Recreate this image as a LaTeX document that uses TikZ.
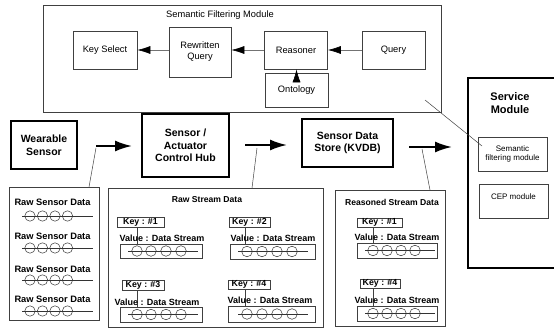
\documentclass[tikz,border=0pt]{standalone}
\usepackage{fontspec}
\setmainfont{Liberation Sans}
\usetikzlibrary{arrows.meta}
\tikzset{
  thinbox/.style={draw=black!75, line width=0.6pt, inner sep=0pt, align=center, font=\fontsize{9.3}{11}\selectfont},
  thickbox/.style={draw=black, line width=1.6pt, inner sep=0pt, align=center, font=\bfseries\fontsize{10.5}{12.5}\selectfont},
  keybox/.style={draw=black!75, line width=0.6pt, inner sep=0pt, font=\bfseries\fontsize{8.8}{10}\selectfont},
  valtext/.style={inner sep=0pt, font=\bfseries\fontsize{9}{10}\selectfont},
  valbox/.style={draw=black!75, line width=0.6pt, inner sep=0pt},
  titletext/.style={inner sep=0pt, font=\bfseries\fontsize{8.6}{10}\selectfont},
  modarrow/.style={-{Latex[length=13pt,width=8pt,color=black]}, line width=0.6pt, draw=black!55},
  bigarrow/.style={-{Latex[length=17pt,width=11pt]}, line width=2pt},
  thinline/.style={line width=0.5pt, draw=black!75},
  circ/.style={line width=0.5pt, draw=black!80},
}
\begin{document}
\begin{tikzpicture}[x=1pt,y=-1pt]
\clip (0,0) rectangle (554,329);
% Semantic filtering module
\node[thinbox, minimum width=398pt, minimum height=107pt] (sfm) at (242,58.5) {};
\node[inner sep=0pt, font=\fontsize{9.3}{11}\selectfont] (sfmt) at (220,15) {Semantic Filtering Module};
\node[thinbox, minimum width=64pt, minimum height=38pt] (keysel) at (105,50) {Key Select};
\node[thinbox, minimum width=62pt, minimum height=50pt] (rewr) at (200,52) {Rewritten\\Query};
\node[thinbox, minimum width=63pt, minimum height=38pt] (reas) at (296,50) {Reasoner};
\node[thinbox, minimum width=63pt, minimum height=38pt] (query) at (393.5,50) {Query};
\node[thinbox, minimum width=63pt, minimum height=34pt] (onto) at (296.5,90) {Ontology};
\draw[modarrow] (query.west) -- (reas.east |- query.west);
\draw[modarrow] (reas.west) -- (rewr.east |- reas.west);
\draw[modarrow] (rewr.west |- keysel.east) -- (keysel.east);
\draw[modarrow] (onto.north) -- (reas.south -| onto.north);

% main chain
\node[thickbox, minimum width=66pt, minimum height=48pt] (wear) at (44,145) {Wearable\\Sensor};
\node[thickbox, minimum width=87pt, minimum height=63pt] (hub) at (185.5,145.5) {Sensor /\\Actuator\\Control Hub};
\node[thickbox, minimum width=91pt, minimum height=48pt] (store) at (347.5,143) {Sensor Data\\Store (KVDB)};
\node[thickbox, minimum width=94pt, minimum height=190pt] (service) at (515,173) {};
\node[inner sep=0pt, align=center, font=\bfseries\fontsize{11}{13}\selectfont] (servt) at (510,103.5) {Service\\Module};
\node[thinbox, minimum width=69pt, minimum height=34pt, font=\fontsize{8}{9.5}\selectfont] (semf) at (512.5,154) {Semantic\\filtering module};
\node[thinbox, minimum width=69pt, minimum height=34pt] (cep) at (513.5,201) {};
\node[inner sep=0pt, font=\fontsize{8}{9.5}\selectfont] (cept) at (513.5,197) {CEP module};

\coordinate (a1s) at (96,146);
\coordinate (a1e) at (132,146);
\coordinate (a2s) at (245,145);
\coordinate (a2e) at (287,145);
\coordinate (a3s) at (409,147);
\coordinate (a3e) at (452,147);
\draw[bigarrow] (a1s) -- (a1e);
\draw[bigarrow] (a2s) -- (a2e);
\draw[bigarrow] (a3s) -- (a3e);

% data boxes
\node[thinbox, minimum width=90pt, minimum height=133pt] (rawsens) at (54,253.5) {};
\node[thinbox, minimum width=215pt, minimum height=139pt] (rawstream) at (215.5,257.5) {};
\node[thinbox, minimum width=110pt, minimum height=136pt] (reasoned) at (390,258) {};

\coordinate (l1s) at (96,148);
\coordinate (l1e) at (89,187);
\coordinate (l2s) at (257,148);
\coordinate (l2e) at (252,188);
\coordinate (l3s) at (422,149);
\coordinate (l3e) at (430,190);
\coordinate (l4s) at (425,100);
\coordinate (l4e) at (482,146);
\draw[thinline] (l1s) -- (l1e);
\draw[thinline] (l2s) -- (l2e);
\draw[thinline] (l3s) -- (l3e);
\draw[thinline] (l4s) -- (l4e);

% raw sensor data
\foreach \ty/\cy [count=\i] in {202/216, 236/248, 269/280, 299/311} {
  \node[titletext, font=\bfseries\fontsize{9.3}{10}\selectfont] (rsd\i) at (52.5,\ty) {Raw Sensor Data};
  \draw[circ] (22,\cy) -- (93,\cy);
  \foreach \cx in {30,42.5,55,67.5} \draw[circ] (\cx,\cy) circle (5.2pt);
}

% raw stream data
\node[titletext] (rst) at (207,200) {Raw Stream Data};
\node[keybox, minimum width=47pt, minimum height=10pt] (k1) at (140.5,222) {Key : \#1};
\node[keybox, minimum width=41pt, minimum height=10pt] (k2) at (249.5,222) {Key : \#2};
\node[keybox, minimum width=42pt, minimum height=10pt] (k3) at (143,285) {Key : \#3};
\node[keybox, minimum width=42pt, minimum height=9pt] (k4) at (249,284.5) {Key : \#4};
\node[valbox, minimum width=82pt, minimum height=14pt] (vb1) at (161,251) {};
\node[valbox, minimum width=85pt, minimum height=15pt] (vb2) at (272.5,251.5) {};
\node[valbox, minimum width=82pt, minimum height=15pt] (vb3) at (161,314.5) {};
\node[valbox, minimum width=87pt, minimum height=16pt] (vb4) at (271.5,314) {};
\coordinate (cA) at (137,0);
\coordinate (cB) at (245,0);
\draw[thinline] (k1.south -| cA) -- (vb1.north -| cA);
\draw[thinline] (k2.south -| cB) -- (vb2.north -| cB);
\draw[thinline] (k3.south -| cA) -- (vb3.north -| cA);
\draw[thinline] (k4.south -| cB) -- (vb4.north -| cB);
\node[valtext] (vt1) at (162,238) {Value : Data Stream};
\node[valtext] (vt2) at (273,238) {Value : Data Stream};
\node[valtext] (vt3) at (157,302) {Value : Data Stream};
\node[valtext] (vt4) at (270,300) {Value : Data Stream};
\foreach \cy in {251,314.5} {
  \draw[circ] (128,\cy) -- (198,\cy);
  \foreach \cx in {137,151,166,181} \draw[circ] (\cx,\cy) circle (5.3pt);
}
\foreach \cy in {251.5,314} {
  \draw[circ] (238,\cy) -- (308,\cy);
  \foreach \cx in {247,262,277,292} \draw[circ] (\cx,\cy) circle (5.3pt);
}

% reasoned stream data
\node[titletext] (rdt) at (392,202) {Reasoned Stream Data};
\node[keybox, minimum width=45pt, minimum height=9pt] (rk1) at (379.5,222.5) {Key : \#1};
\node[keybox, minimum width=40pt, minimum height=9pt] (rk4) at (380,283.5) {Key : \#4};
\node[valbox, minimum width=80pt, minimum height=15pt] (rvb1) at (397,250.5) {};
\node[valbox, minimum width=80pt, minimum height=15pt] (rvb4) at (397,313.5) {};
\coordinate (cC) at (373,0);
\draw[thinline] (rk1.south -| cC) -- (rvb1.north -| cC);
\draw[thinline] (rk4.south -| cC) -- (rvb4.north -| cC);
\node[valtext] (rvt1) at (397,237) {Value : Data Stream};
\node[valtext] (rvt4) at (397,300) {Value : Data Stream};
\foreach \cy in {250.5,313.5} {
  \draw[circ] (365,\cy) -- (435,\cy);
  \foreach \cx in {373,387,401,415} \draw[circ] (\cx,\cy) circle (5.3pt);
}
\end{tikzpicture}
\end{document}
